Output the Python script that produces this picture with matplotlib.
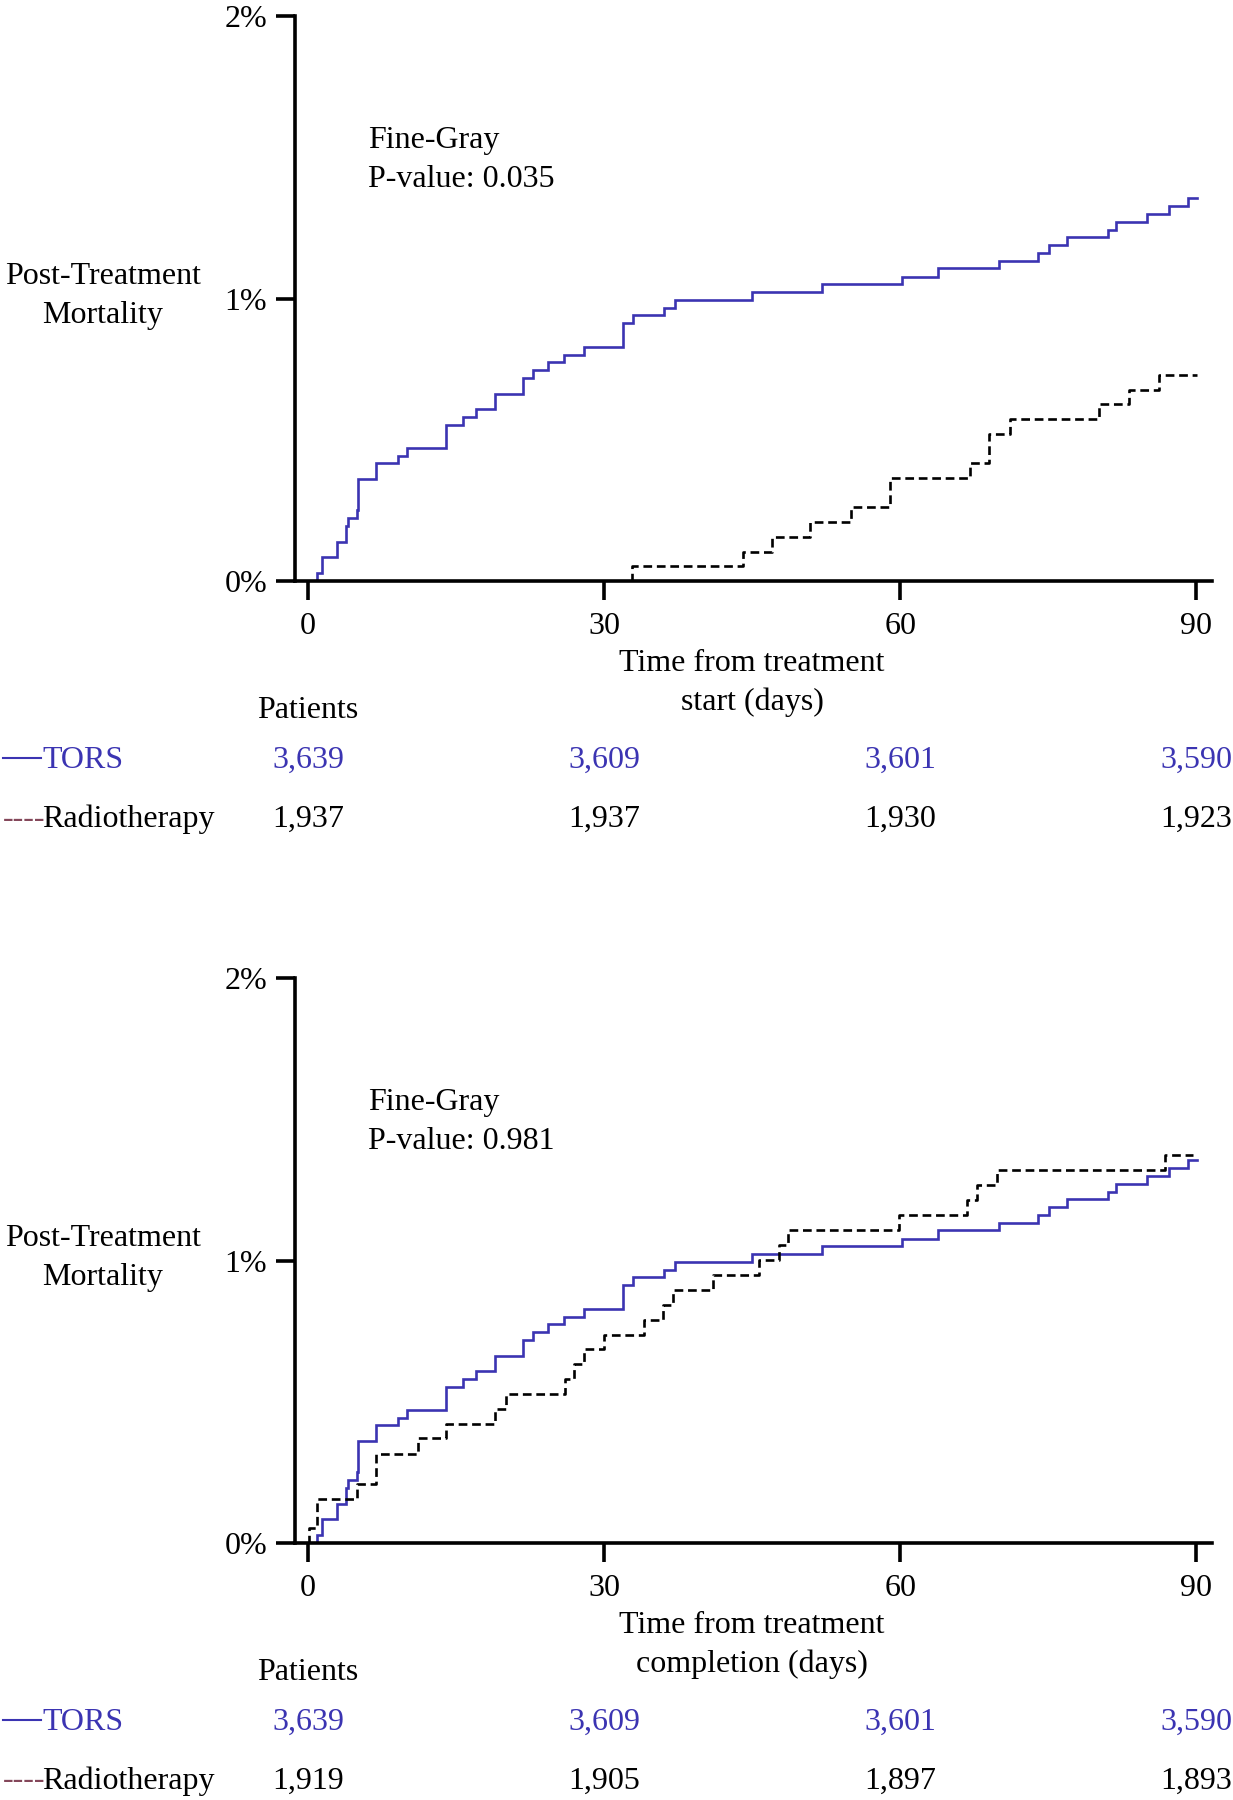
import matplotlib
matplotlib.use("Agg")
import matplotlib.pyplot as plt
import matplotlib.transforms as mtransforms
from matplotlib.lines import Line2D

plt.rcParams['font.family'] = ['Liberation Serif', 'DejaVu Serif']

# ---------------- data ----------------
x_ticks = [0, 30, 60, 90]
y_ticks = [0, 1, 2]
y_tick_labels = ['0%', '1%', '2%']

tors_days = [0, 0.9, 1.45, 2.9, 3.85, 4.1, 4.93, 5.1, 6.9, 9.1,
             10.0, 13.95, 15.75, 17.0, 18.9, 21.8, 22.8, 24.35, 25.9, 28.0,
             31.95, 32.95, 36.1, 37.2, 45.0, 52.05, 60.2, 63.8, 70.05, 73.95,
             75.05, 76.9, 81.1, 81.9, 85.05, 87.2, 89.2, 90.1]
tors_pct = [0, 0.027, 0.086, 0.138, 0.194, 0.223, 0.25, 0.362, 0.417, 0.444,
            0.471, 0.553, 0.581, 0.608, 0.663, 0.719, 0.746, 0.775, 0.80, 0.829,
            0.913, 0.943, 0.968, 0.995, 1.022, 1.050, 1.077, 1.107, 1.134, 1.162,
            1.189, 1.216, 1.244, 1.271, 1.298, 1.327, 1.356, 1.356]

rt_start_days = [0, 32.8, 44.05, 47.0, 50.9, 55.0, 59.0, 67.1, 69.05, 71.1,
                 80.1, 83.15, 86.25, 90.1]
rt_start_pct = [0, 0.053, 0.103, 0.156, 0.209, 0.262, 0.364, 0.417, 0.52, 0.573,
                0.626, 0.676, 0.728, 0.728]

rt_comp_days = [0, 0.05, 0.95, 5.0, 6.85, 11.1, 13.95, 18.95, 20.1, 26.0,
                26.95, 28.0, 30.0, 34.0, 36.0, 37.0, 41.0, 45.7, 47.7, 48.6,
                59.9, 66.75, 67.75, 69.8, 86.8, 89.7]
rt_comp_pct = [0, 0.054, 0.157, 0.21, 0.316, 0.371, 0.421, 0.474, 0.527, 0.58,
               0.635, 0.686, 0.738, 0.791, 0.844, 0.897, 0.95, 1.002, 1.055, 1.108,
               1.161, 1.214, 1.266, 1.319, 1.374, 1.374]

p_values = ['P-value: 0.035', 'P-value: 0.981']
x_labels = ['Time from treatment\nstart (days)', 'Time from treatment\ncompletion (days)']
tors_at_risk = [['3,639', '3,609', '3,601', '3,590'], ['3,639', '3,609', '3,601', '3,590']]
rt_at_risk = [['1,937', '1,937', '1,930', '1,923'], ['1,919', '1,905', '1,897', '1,893']]
rt_curves = [(rt_start_days, rt_start_pct), (rt_comp_days, rt_comp_pct)]

# ---------------- style ----------------
W, H = 1233, 1800
BLUE = '#3b34b2'
MAROON = '#84475a'
FS = 23
LS = 1.45

fig = plt.figure(figsize=(W / 100, H / 100), dpi=100)


def fy(y):
    return 1 - y / H


for i, off in enumerate([0, 962]):
    top_px = 16 + off
    bot_px = 581 + off
    ax = fig.add_axes([295 / W, fy(bot_px), (1212 - 295) / W, (bot_px - top_px) / H])
    ax.set_xlim(-1.32, 91.6)
    ax.set_ylim(0, 2)
    for s in ['top', 'right']:
        ax.spines[s].set_visible(False)
    for s in ['left', 'bottom']:
        ax.spines[s].set_linewidth(2.6)
    ax.set_xticks(x_ticks)
    ax.set_xticklabels([str(t) for t in x_ticks])
    ax.set_yticks(y_ticks)
    ax.set_yticklabels(y_tick_labels)
    ax.tick_params(axis='both', direction='out', length=14, width=2.6,
                   labelsize=FS, pad=6)
    ax.tick_params(axis='x', pad=8.5)

    ax.step(tors_days, tors_pct, where='post', color=BLUE, lw=1.9,
            solid_joinstyle='miter')
    d, p = rt_curves[i]
    ax.step(d, p, where='post', color='black', lw=1.9, dashes=(3.3, 1.8))

    ax.text(6.1, 1.56, 'Fine-Gray', fontsize=FS, va='center', ha='left')
    ax.text(6.1, 1.42, p_values[i], fontsize=FS, va='center', ha='left')

    tr = mtransforms.blended_transform_factory(ax.transData, fig.transFigure)
    ax.text(45, fy(683 + off), x_labels[i], transform=tr, fontsize=FS,
            ha='center', va='center', multialignment='center', linespacing=LS)

    # y label
    fig.text(103 / W, fy(296 + off), 'Post-Treatment\nMortality', fontsize=FS,
             ha='center', va='center', multialignment='center', linespacing=LS)

    # at-risk table
    ax.text(0, fy(711 + off), 'Patients', transform=tr, fontsize=FS,
            ha='center', va='center')
    for xt, lab in zip(x_ticks, tors_at_risk[i]):
        ax.text(xt, fy(760 + off), lab, transform=tr, fontsize=FS,
                ha='center', va='center', color=BLUE)
    for xt, lab in zip(x_ticks, rt_at_risk[i]):
        ax.text(xt, fy(819 + off), lab, transform=tr, fontsize=FS,
                ha='center', va='center', color='black')

    fig.add_artist(Line2D([3 / W, 41 / W], [fy(758 + off), fy(758 + off)],
                          transform=fig.transFigure, color=BLUE, lw=1.5))
    fig.text(42 / W, fy(760 + off), 'TORS', fontsize=FS, color=BLUE,
             ha='left', va='center')
    fig.text(3 / W, fy(819 + off), '----', fontsize=FS, color=MAROON,
             ha='left', va='center')
    fig.text(42 / W, fy(819 + off), 'Radiotherapy', fontsize=FS, color='black',
             ha='left', va='center')

fig.savefig('out.png', dpi=100, facecolor='white')
